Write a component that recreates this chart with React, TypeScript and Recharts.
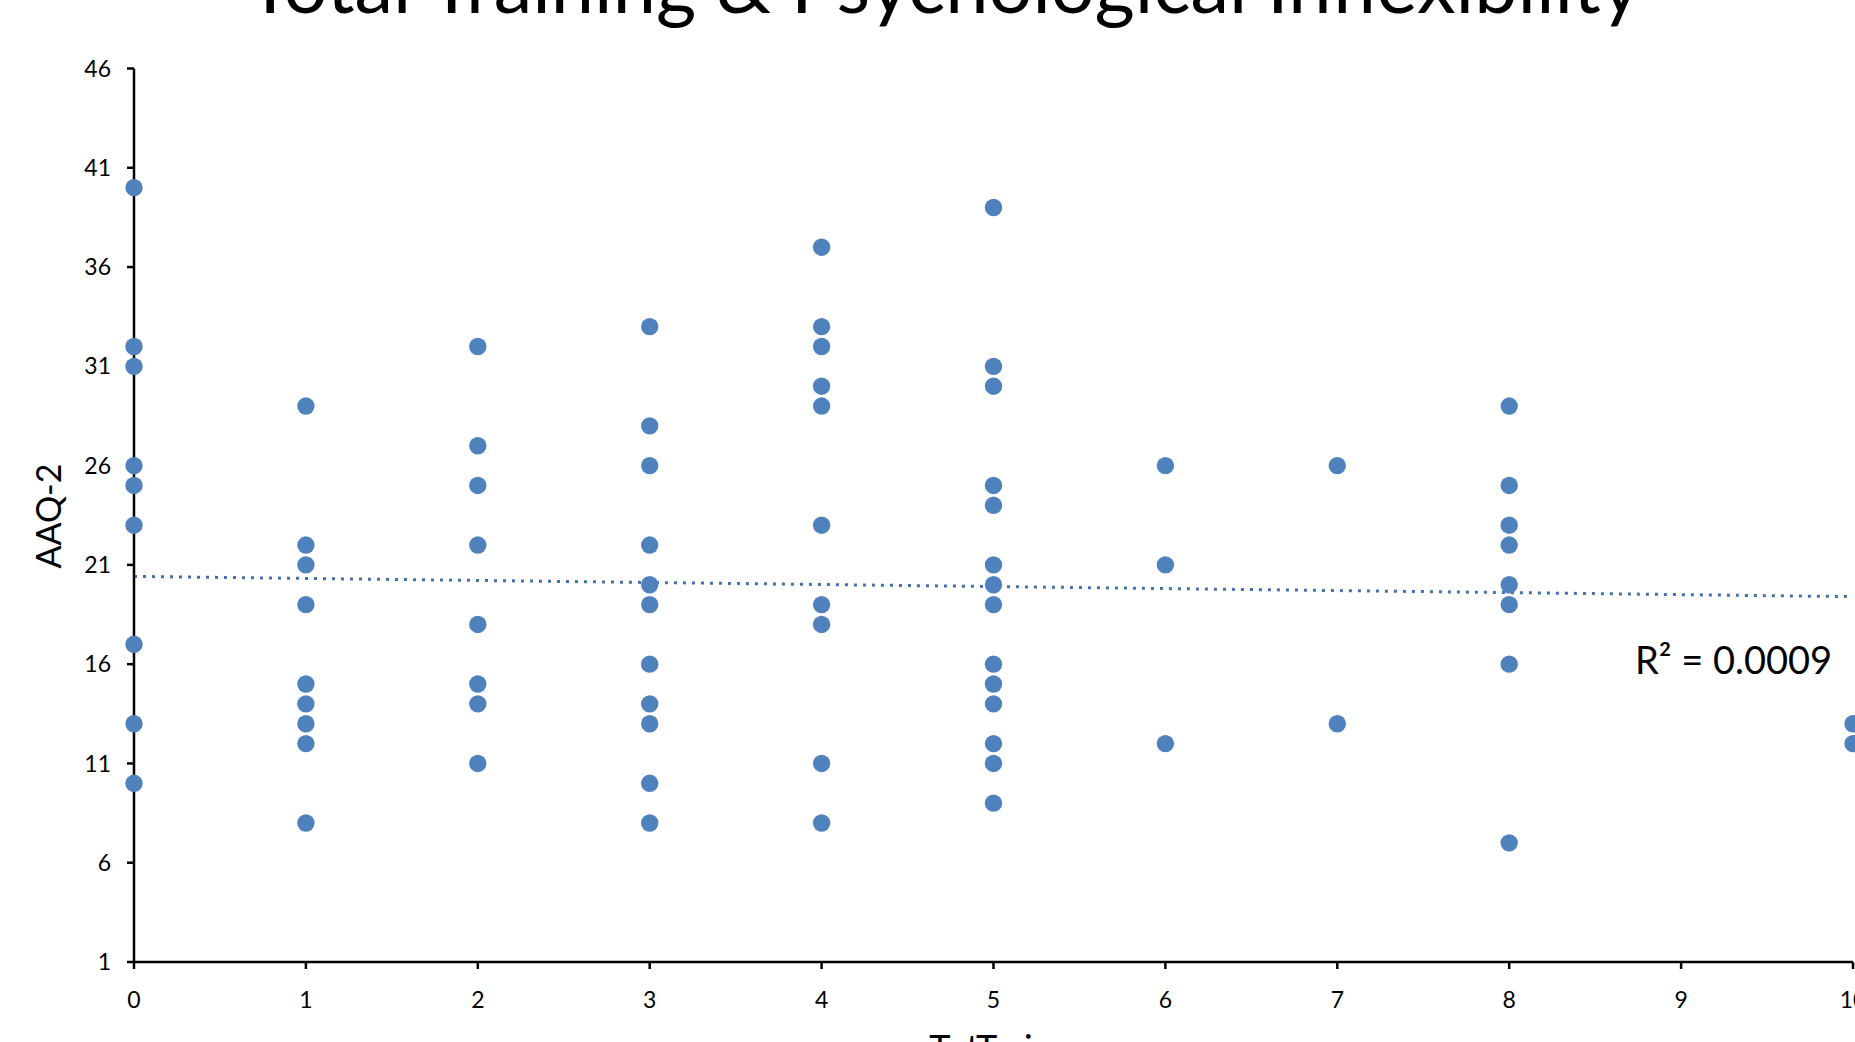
import React from 'react';
import { ScatterChart, Scatter, XAxis, YAxis, ReferenceLine } from 'recharts';

// TotTrain levels and the AAQ-2 scores read at each level
const trainLevels = [0, 1, 2, 3, 4, 5, 6, 7, 8, 10];
const aaqAt0 = [40, 32, 31, 26, 25, 23, 17, 13, 10];
const aaqAt1 = [29, 22, 21, 19, 15, 14, 13, 12, 8];
const aaqAt2 = [32, 27, 25, 22, 18, 15, 14, 11];
const aaqAt3 = [33, 28, 26, 22, 20, 19, 16, 14, 13, 10, 8];
const aaqAt4 = [37, 33, 32, 30, 29, 23, 19, 18, 11, 8];
const aaqAt5 = [39, 31, 30, 25, 24, 21, 20, 19, 16, 15, 14, 12, 11, 9];
const aaqAt6 = [26, 21, 12];
const aaqAt7 = [26, 13];
const aaqAt8 = [29, 25, 23, 22, 20, 19, 16, 7];
const aaqAt10 = [13, 12];

const xTicks = [0, 1, 2, 3, 4, 5, 6, 7, 8, 9, 10];
const yTicks = [1, 6, 11, 16, 21, 26, 31, 36, 41, 46];

// linear trendline endpoints (x, y)
const trendX = [0, 10];
const trendY = [20.42, 19.4];

const groups = [aaqAt0, aaqAt1, aaqAt2, aaqAt3, aaqAt4, aaqAt5, aaqAt6, aaqAt7, aaqAt8, aaqAt10];
const points = groups.flatMap((vals, i) => vals.map((v) => ({ x: trainLevels[i], y: v })));

const BLUE = '#4F81BD';
const FONT = 'Lato, "Open Sans", sans-serif';

const Dot = (p: any) => <circle cx={p.cx} cy={p.cy} r={8.7} fill={BLUE} />;

export default function App() {
  return (
    <div
      style={{
        position: 'fixed',
        left: 0,
        top: 0,
        width: 1855,
        height: 1042,
        overflow: 'hidden',
        background: '#fff',
      }}
    >
      <ScatterChart
        width={1855}
        height={1042}
        margin={{ top: 68.5, right: 2, bottom: 0, left: 0 }}
      >
        <XAxis
          type="number"
          dataKey="x"
          domain={[0, 10]}
          ticks={xTicks}
          interval={0}
          height={80}
          tickSize={7}
          tickMargin={23}
          axisLine={{ stroke: '#000', strokeWidth: 2.5 }}
          tickLine={{ stroke: '#000', strokeWidth: 2.5 }}
          tick={{ fill: '#000', fontSize: 23, fontFamily: FONT }}
        />
        <YAxis
          type="number"
          dataKey="y"
          domain={[1, 46]}
          ticks={yTicks}
          interval={0}
          width={134}
          tickSize={7}
          tickMargin={16}
          axisLine={{ stroke: '#000', strokeWidth: 2.5 }}
          tickLine={{ stroke: '#000', strokeWidth: 2.5 }}
          tick={{ fill: '#000', fontSize: 23, fontFamily: FONT }}
        />
        <Scatter data={points} shape={Dot} isAnimationActive={false} />
        <ReferenceLine
          segment={[
            { x: trendX[0], y: trendY[0] },
            { x: trendX[1], y: trendY[1] },
          ]}
          stroke="#4570B0"
          strokeWidth={3}
          strokeDasharray="3 6"
        />
      </ScatterChart>
      <svg
        width={1855}
        height={1042}
        style={{ position: 'absolute', left: 0, top: 0, pointerEvents: 'none' }}
      >
        <text x={944} y={13} textAnchor="middle" fontFamily={FONT} fontSize={77.5} fill="#000">
          Total Training &amp; Psychological Inflexibility
        </text>
        <text x={1635} y={674} textAnchor="start" fontFamily={FONT} fontSize={38} fill="#000">
          R² = 0.0009
        </text>
        <text
          x={61}
          y={516}
          textAnchor="middle"
          fontFamily={FONT}
          fontSize={34}
          fill="#000"
          transform="rotate(-90 61 516)"
        >
          AAQ-2
        </text>
        <text x={991} y={1061} textAnchor="middle" fontFamily={FONT} fontSize={36} fill="#000">
          TotTrain
        </text>
      </svg>
    </div>
  );
}
